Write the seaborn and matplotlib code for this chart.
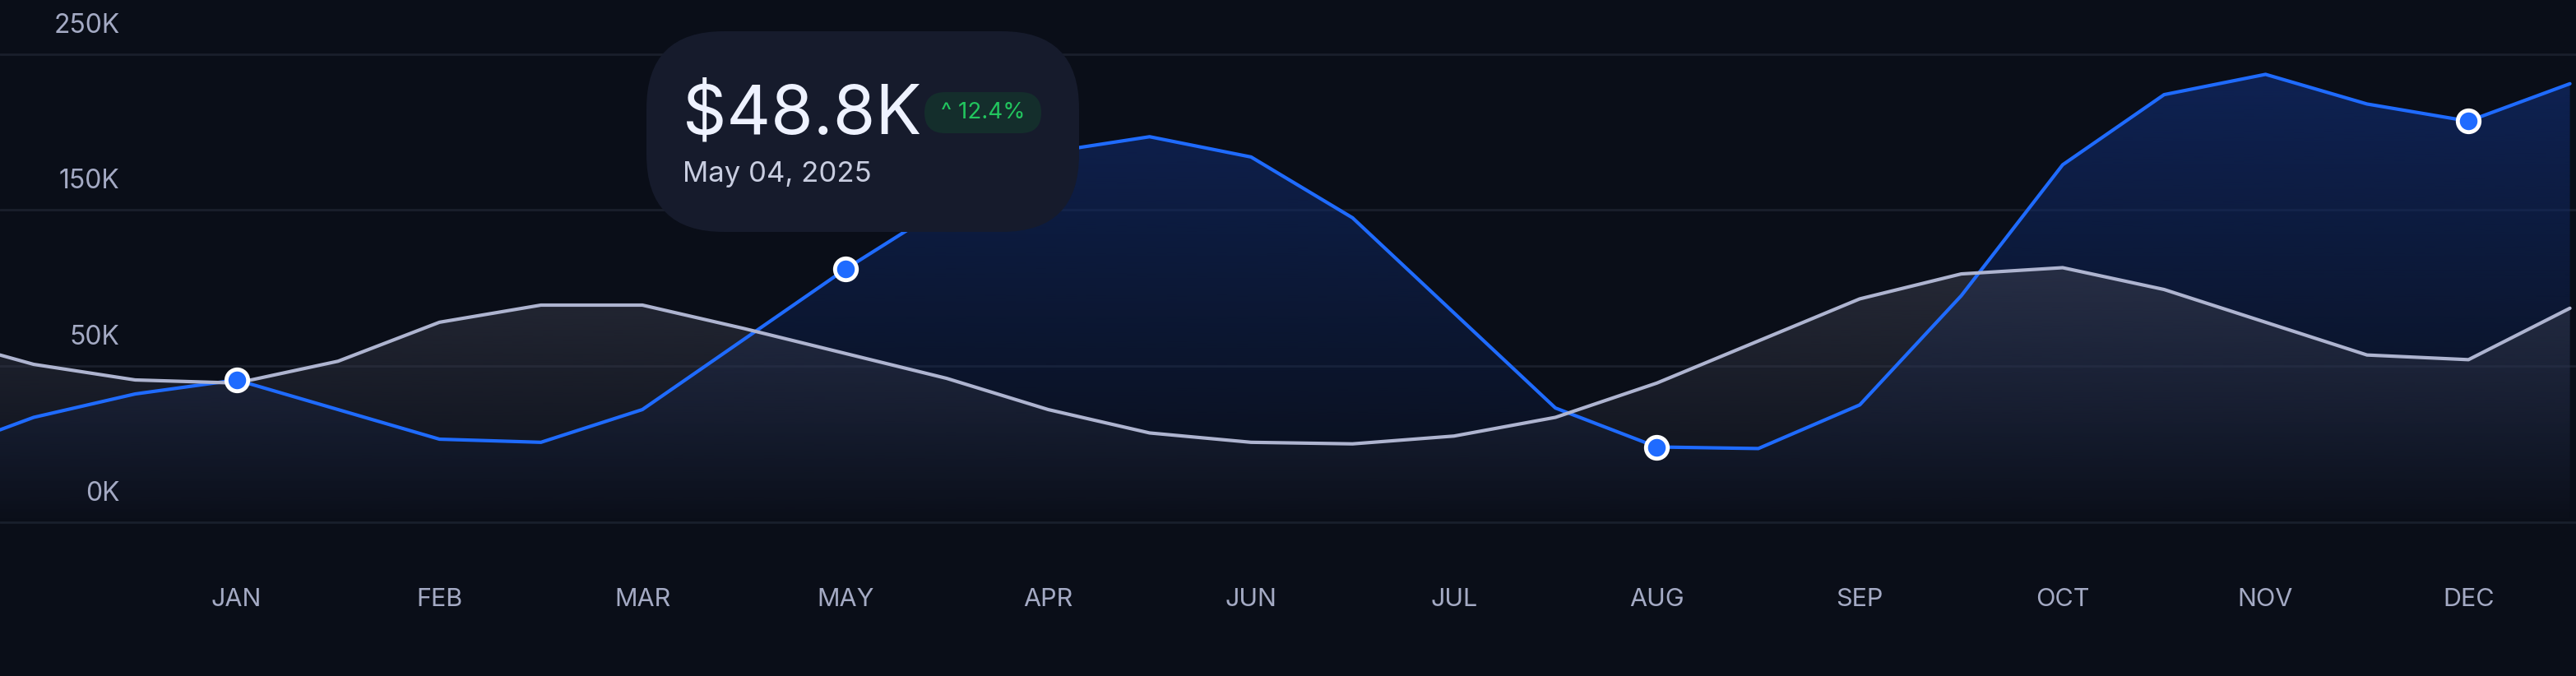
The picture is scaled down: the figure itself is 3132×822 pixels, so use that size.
import numpy as np
import pandas as pd
import matplotlib
matplotlib.use("Agg")
import matplotlib.pyplot as plt
import seaborn as sns
from matplotlib.patches import FancyBboxPatch

months = ["JAN", "FEB", "MAR", "MAY", "APR", "JUN", "JUL", "AUG", "SEP", "OCT", "NOV", "DEC"]
y_tick_labels = ["0K", "50K", "150K", "250K"]
# positions in month-index units, half-month steps
pos = [-1.166, -1.0, -0.5, 0, 0.5, 1, 1.5, 2, 2.5, 3, 3.5, 4, 4.5, 5, 5.5, 6, 6.5, 7, 7.5, 8, 8.5, 9, 9.5, 10, 10.5, 11, 11.5]
blue_vals = [59, 67, 82, 91, 72, 53, 51, 72, 117, 162, 203, 237, 247, 234, 195, 134, 73, 48, 47, 75, 145, 229, 274, 287, 268, 257, 281]
gray_vals = [107, 101, 91, 89, 103, 128, 139, 139, 124, 108, 92, 72, 57, 51, 50, 55, 67, 89, 116, 143, 159, 163, 149, 128, 107, 104, 137]
marker_pos = [0, 3, 7, 11]
marker_vals = [91, 162, 48, 257]

BG = "#0a0e18"
sns.set_theme(style="dark", rc={"axes.facecolor": BG, "figure.facecolor": BG})
plt.rcParams['font.family'] = ['Inter', 'DejaVu Sans']

fig = plt.figure(figsize=(31.32, 8.22), dpi=100)
ax = fig.add_axes([0, 0, 1, 1])
ax.set_facecolor(BG)
xlim = (-1.166, 11.53)
ylim = (-98.9, 334.7)
ax.set_xlim(*xlim)
ax.set_ylim(*ylim)

for g in [0, 100, 200, 300]:
    ax.axhline(g, color="#1a1f2c", lw=2, zorder=1)

def grad_fill(x, y, rgb, a_top, a_bot, top, bot, z):
    poly = ax.fill_between(x, y, bot, color="none", lw=0)
    grad = np.linspace(a_top, a_bot, 256).reshape(-1, 1)
    img = np.zeros((256, 1, 4))
    img[..., :3] = matplotlib.colors.to_rgb(rgb)
    img[..., 3] = grad
    im = ax.imshow(img, extent=[xlim[0], xlim[1], bot, top], aspect="auto", origin="upper", zorder=z)
    im.set_clip_path(poly.get_paths()[0], transform=ax.transData)

grad_fill(pos, blue_vals, "#102a6a", 0.75, 0.0, 300, -5, 2)
grad_fill(pos, gray_vals, "#3a3d4c", 0.6, 0.0, 170, -5, 3)

df = pd.DataFrame({"x": pos * 2, "y": blue_vals + gray_vals,
                   "s": ["blue"] * len(pos) + ["gray"] * len(pos)})
sns.lineplot(data=df, x="x", y="y", hue="s", palette={"blue": "#1f6bff", "gray": "#aeb4d0"},
             linewidth=3, legend=False, ax=ax, zorder=5, sort=False)
ax.plot(marker_pos, marker_vals, "o", ms=19, mfc="#1f6bff", mec="white", mew=3.5, zorder=6, ls="none")

ax.set_xticks([]); ax.set_yticks([])
ax.set_xlabel(""); ax.set_ylabel("")
for s in ax.spines.values():
    s.set_visible(False)

for i, m in enumerate(months):
    ax.text(i, -50, m, color="#a4aac4", fontsize=22, ha="center", va="center", zorder=7)
for g, lab in zip([0, 100, 200, 300], y_tick_labels):
    ax.text(0.055 * (-1) + (-0.52), g + 10, lab, color="#a4aac4", fontsize=23, ha="right", va="bottom", zorder=7)

# tooltip
W, H = 3132, 822
box = FancyBboxPatch((786 / W, 1 - 282 / H), 526 / W, 244 / H,
                     boxstyle="round,pad=0,rounding_size=0.03", transform=fig.transFigure,
                     fc="#161b2c", ec="none", zorder=10, mutation_aspect=W / H)
fig.patches.append(box)
fig.text(830 / W, 1 - 140 / H, "$48.8K", color="#eef2ff", fontsize=60, ha="left", va="center", zorder=11)
fig.text(830 / W, 1 - 212 / H, "May 04, 2025", color="#c8cde0", fontsize=25, ha="left", va="center", zorder=11)
pill = FancyBboxPatch((1124 / W, 1 - 162 / H), 142 / W, 50 / H,
                      boxstyle="round,pad=0,rounding_size=0.008", transform=fig.transFigure,
                      fc="#142e2c", ec="none", zorder=11, mutation_aspect=W / H)
fig.patches.append(pill)
fig.text(1195 / W, 1 - 137 / H, "^ 12.4%", color="#22c55e", fontsize=20, ha="center", va="center", zorder=12)

fig.savefig("out.png", dpi=100, facecolor=BG)
